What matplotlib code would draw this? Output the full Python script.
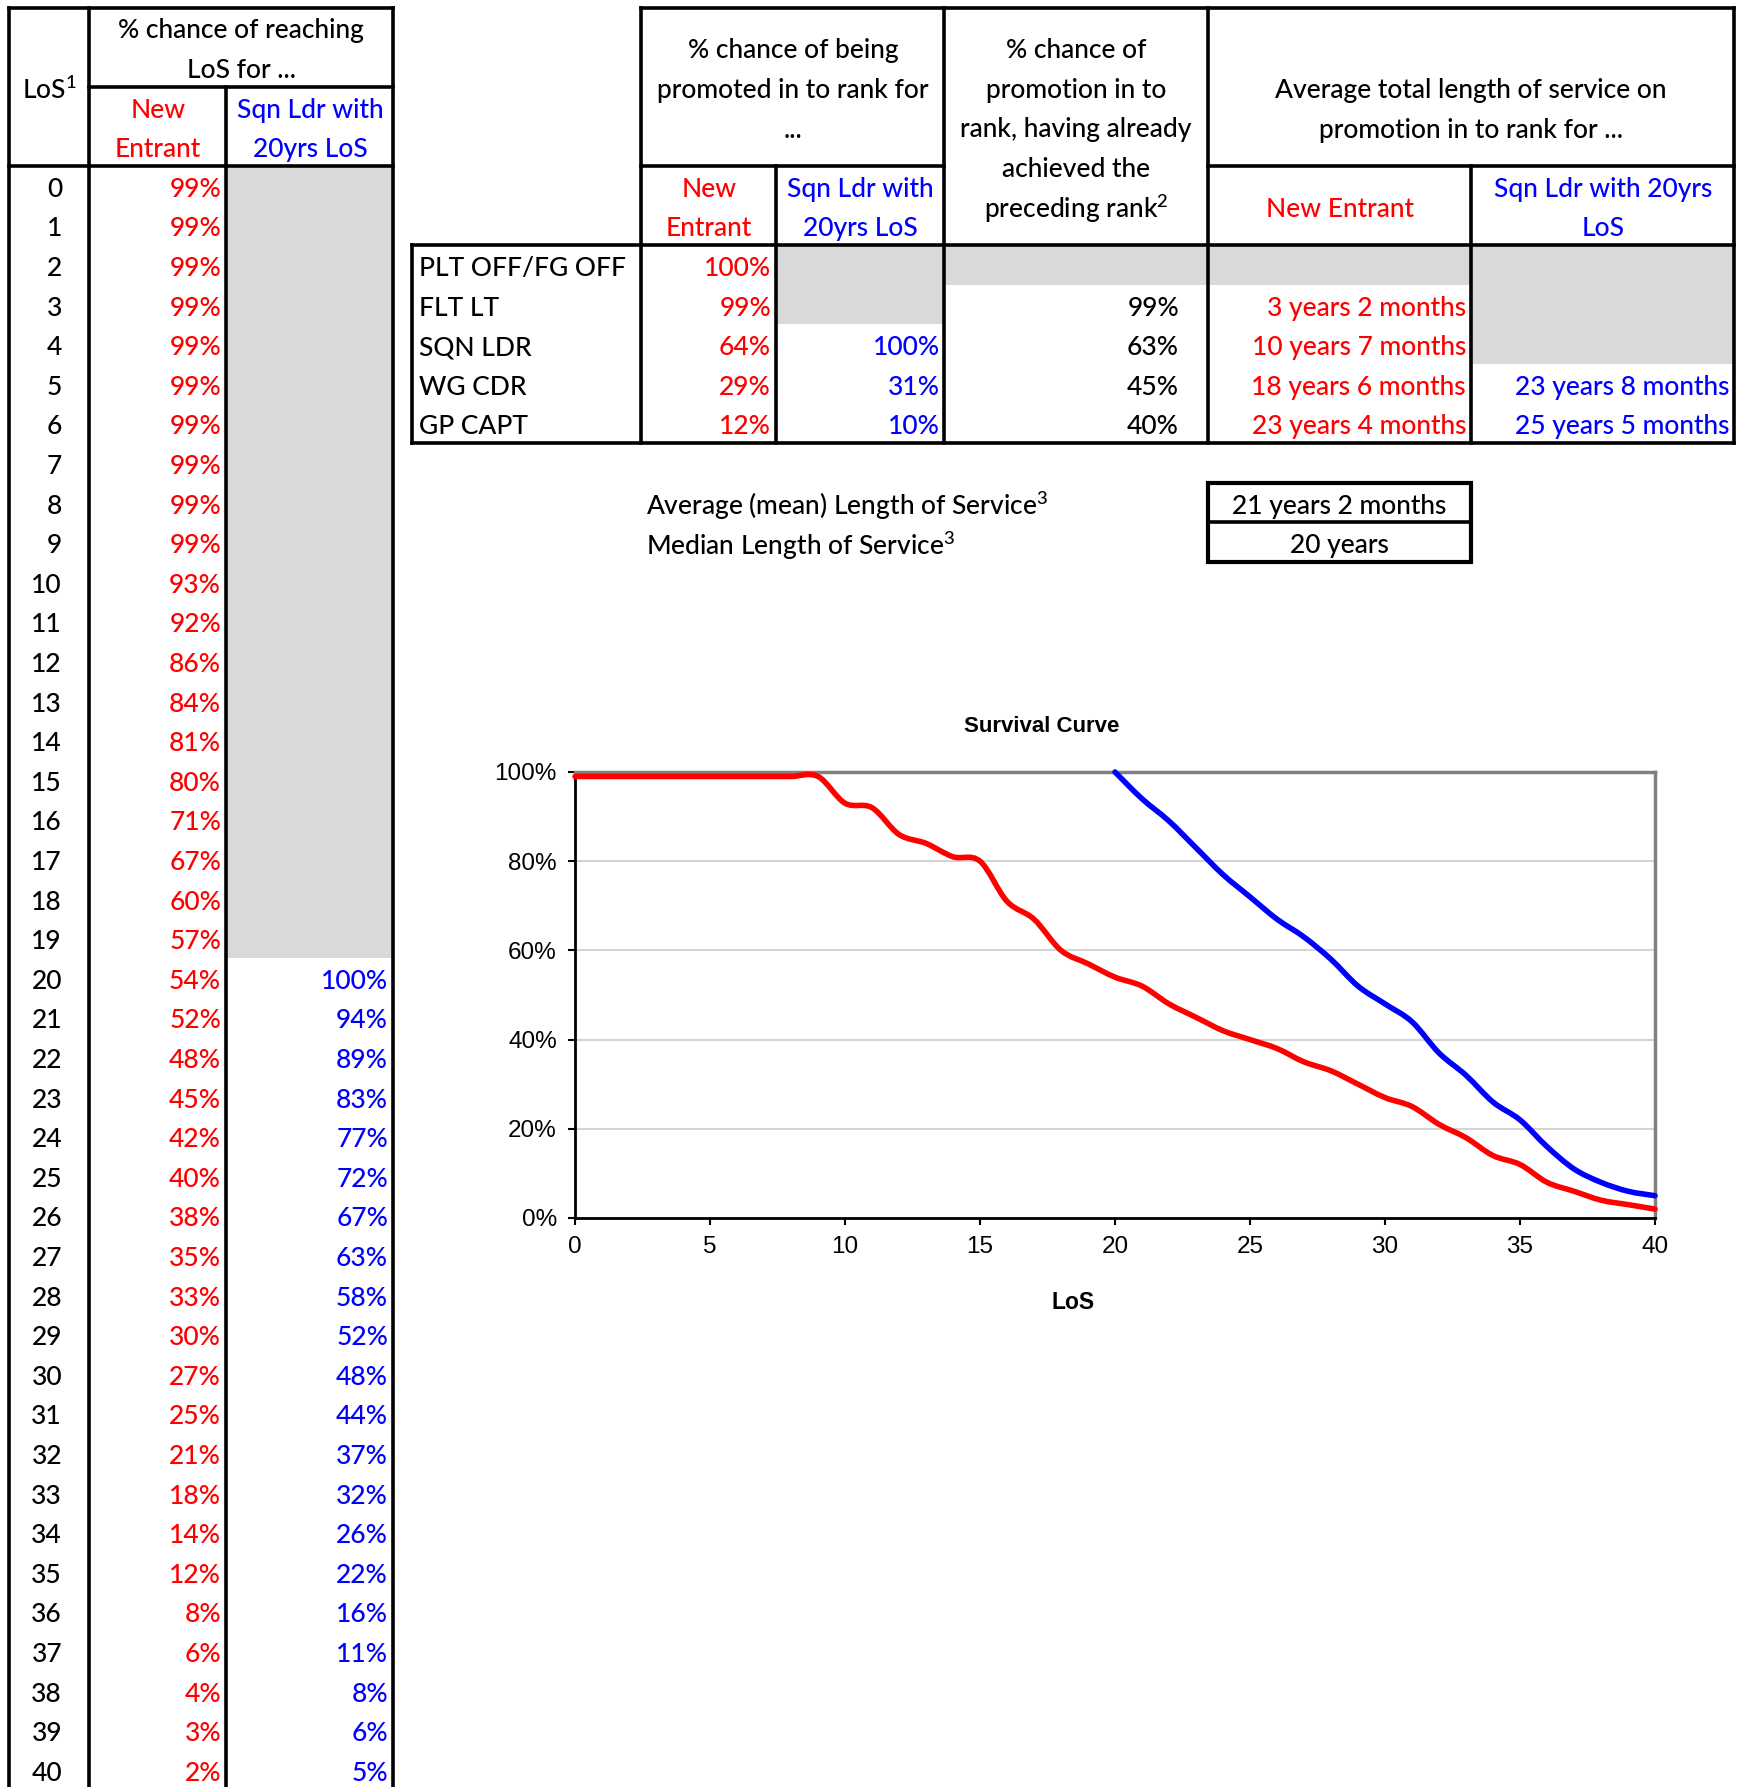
import numpy as np
import matplotlib
matplotlib.use("Agg")
import matplotlib.pyplot as plt
from matplotlib.path import Path
from matplotlib.patches import PathPatch, Rectangle
from matplotlib.ticker import FuncFormatter

plt.rcParams['font.family'] = ['Lato', 'DejaVu Sans']
plt.rcParams['font.weight'] = 'medium'
plt.rcParams['mathtext.fontset'] = 'custom'
plt.rcParams['mathtext.rm'] = 'Lato:medium'
plt.rcParams['mathtext.it'] = 'Lato:medium'

# survival table (percent chance of reaching each LoS)
los = list(range(41))
new_entrant = [99, 99, 99, 99, 99, 99, 99, 99, 99, 99,
               93, 92, 86, 84, 81, 80, 71, 67, 60, 57,
               54, 52, 48, 45, 42, 40, 38, 35, 33, 30,
               27, 25, 21, 18, 14, 12, 8, 6, 4, 3, 2]
sqn_los = list(range(20, 41))
sqn_ldr = [100, 94, 89, 83, 77, 72, 67, 63, 58, 52, 48,
           44, 37, 32, 26, 22, 16, 11, 8, 6, 5]

# promotion table
ranks = ["PLT OFF/FG OFF", "FLT LT", "SQN LDR", "WG CDR", "GP CAPT"]
promo_new = ["100%", "99%", "64%", "29%", "12%"]
promo_sqn = ["", "", "100%", "31%", "10%"]
promo_given_prev = ["", "99%", "63%", "45%", "40%"]
avg_los_new = ["", "3 years 2 months", "10 years 7 months",
               "18 years 6 months", "23 years 4 months"]
avg_los_sqn = ["", "", "", "23 years 8 months", "25 years 5 months"]

mean_los = "21 years 2 months"
median_los = "20 years"

RED = "#ff0000"
BLUE = "#0000ff"
GREY = "#d9d9d9"
FS = 19

W, H = 1742, 1787
fig = plt.figure(figsize=(W / 100, H / 100), dpi=100)
ax0 = fig.add_axes([0, 0, 1, 1])
ax0.set_xlim(0, W)
ax0.set_ylim(H, 0)
ax0.axis("off")

RH = 39.6


def top(k):
    return 166 + RH * k


def mid(k):
    return top(k) + RH / 2


def hline(y, x1, x2, lw=2.6):
    ax0.plot([x1, x2], [y, y], color="black", lw=lw, solid_capstyle="projecting")


def vline(x, y1, y2, lw=2.6):
    ax0.plot([x, x], [y1, y2], color="black", lw=lw, solid_capstyle="projecting")


def grey(x1, x2, y1, y2):
    ax0.add_patch(Rectangle((x1, y1), x2 - x1, y2 - y1, color=GREY, lw=0, zorder=0))


def txt(x, y, s, color="black", ha="center", **kw):
    ax0.text(x, y + 3.5, s, color=color, ha=ha, va="center", fontsize=FS, **kw)


# ---- left table ----
grey(226, 393, top(0), top(20))
hline(top(-4), 9, 393)
hline(top(-2), 89, 393)
hline(top(0), 9, 393)
for c in [9, 89, 393]:
    vline(c, top(-4), H + 5)
vline(226, top(-2), H + 5)

txt(49, top(-2), "LoS$^{1}$")
txt(241, mid(-4), "% chance of reaching")
txt(241, mid(-3), "LoS for ...")
txt(158, mid(-2), "New", RED)
txt(158, mid(-1), "Entrant", RED)
txt(310, mid(-2), "Sqn Ldr with", BLUE)
txt(310, mid(-1), "20yrs LoS", BLUE)

for i, v in zip(los, new_entrant):
    txt(62, mid(i), str(i), ha="right")
    txt(221, mid(i), f"{v}%", RED, ha="right")
for i, v in zip(sqn_los, sqn_ldr):
    txt(388, mid(i), f"{v}%", BLUE, ha="right")

# ---- right table ----
grey(776, 944, top(2), top(4))
grey(944, 1208, top(2), top(3))
grey(1208, 1471, top(2), top(3))
grey(1471, 1734, top(2), top(5))

hline(top(-4), 641, 1734)
hline(top(0), 641, 944)
hline(top(0), 1208, 1734)
hline(top(2), 412, 1734)
hline(top(7), 412, 1734)
vline(412, top(2), top(7))
for c in [641, 944, 1208, 1734]:
    vline(c, top(-4), top(7))
for c in [776, 1471]:
    vline(c, top(0), top(7))

for k, s in enumerate(["% chance of being", "promoted in to rank for", "..."]):
    txt(793, top(-4) + RH * (k + 0.5) + 20, s)
txt(709, mid(0), "New", RED)
txt(709, mid(1), "Entrant", RED)
txt(860, mid(0), "Sqn Ldr with", BLUE)
txt(860, mid(1), "20yrs LoS", BLUE)
for k, s in enumerate(["% chance of", "promotion in to", "rank, having already",
                       "achieved the", "preceding rank$^{2}$"]):
    txt(1076, top(-4) + RH * (k + 1), s)
txt(1471, mid(-3) + 20, "Average total length of service on")
txt(1471, mid(-2) + 20, "promotion in to rank for ...")
txt(1340, top(1), "New Entrant", RED)
txt(1603, mid(0), "Sqn Ldr with 20yrs", BLUE)
txt(1603, mid(1), "LoS", BLUE)

for r, name in enumerate(ranks):
    y = mid(r + 2)
    txt(419, y, name, ha="left")
    txt(771, y, promo_new[r], RED, ha="right")
    txt(940, y, promo_sqn[r], BLUE, ha="right")
    txt(1179, y, promo_given_prev[r], ha="right")
    txt(1466, y, avg_los_new[r], RED, ha="right")
    txt(1729, y, avg_los_sqn[r], BLUE, ha="right")

# mean / median
txt(646, mid(8), "Average (mean) Length of Service$^{3}$", ha="left")
txt(646, mid(9), "Median Length of Service$^{3}$", ha="left")
ax0.add_patch(Rectangle((1208, top(8)), 263, 2 * RH, fill=False, ec="black", lw=3))
hline(top(9), 1208, 1471)
txt(1339.5, mid(8), mean_los)
txt(1339.5, mid(9), median_los)

# ---- survival chart ----
ax = fig.add_axes([575 / W, 1 - 1218 / H, (1655 - 575) / W, (1218 - 772) / H])


def smooth_path(xs, ys):
    # Bezier curve through the points, like a spreadsheet "smoothed line"
    pts = np.column_stack([xs, ys]).astype(float)
    n = len(pts)
    verts = [pts[0]]
    codes = [Path.MOVETO]
    for i in range(n - 1):
        p0 = pts[i - 1] if i > 0 else pts[i]
        p1, p2 = pts[i], pts[i + 1]
        p3 = pts[i + 2] if i + 2 < n else pts[i + 1]
        verts += [p1 + (p2 - p0) / 6, p2 - (p3 - p1) / 6, p2]
        codes += [Path.CURVE4] * 3
    return Path(verts, codes)


ax.add_patch(PathPatch(smooth_path(los, np.array(new_entrant) / 100), fill=False,
                       ec=RED, lw=4, capstyle="round", zorder=3, clip_on=False))
ax.add_patch(PathPatch(smooth_path(sqn_los, np.array(sqn_ldr) / 100), fill=False,
                       ec=BLUE, lw=4, capstyle="round", zorder=3, clip_on=False))

ax.set_xlim(0, 40)
ax.set_ylim(0, 1)
ax.set_xticks(range(0, 41, 5))
ax.set_yticks(np.arange(0, 1.01, 0.2))
ax.yaxis.set_major_formatter(FuncFormatter(lambda v, p: f"{v * 100:.0f}%"))
ax.grid(axis="y", color="#d4d4d4", lw=1.5)
ax.set_axisbelow(True)
for s in ["top", "right"]:
    ax.spines[s].set_color("#808080")
    ax.spines[s].set_linewidth(2.5)
for s in ["left", "bottom"]:
    ax.spines[s].set_color("black")
    ax.spines[s].set_linewidth(2)
ax.tick_params(direction="out", length=5, width=1.5, labelsize=17.5,
               labelfontfamily="Liberation Sans", pad=8)
for lab in ax.get_xticklabels() + ax.get_yticklabels():
    lab.set_fontweight("normal")
ax.set_title("Survival Curve", fontsize=16, fontweight="bold",
             family="Liberation Sans", pad=29, x=0.4325)
ax.set_xlabel("LoS", fontsize=16.5, fontweight="bold", family="Liberation Sans",
              labelpad=24, x=0.461)

fig.savefig("out.png", dpi=100)
